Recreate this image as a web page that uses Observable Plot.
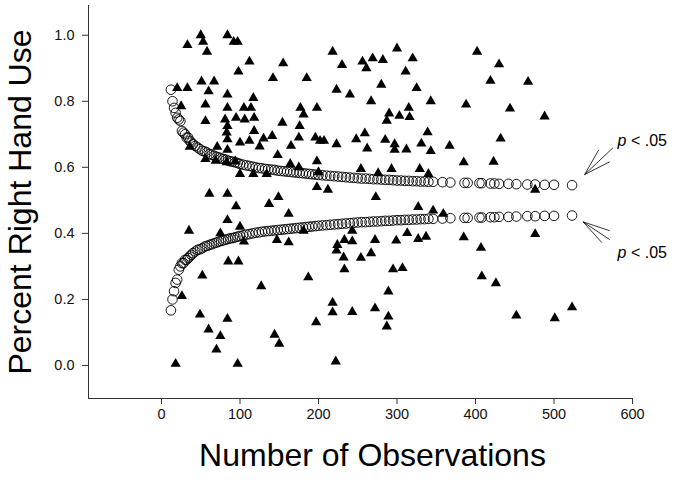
<!DOCTYPE html>
<html>
<head>
<meta charset="utf-8">
<script src="https://cdn.jsdelivr.net/npm/d3@7"></script>
<script src="https://cdn.jsdelivr.net/npm/@observablehq/plot@0.6"></script>
<style>
  html, body { margin: 0; padding: 0; background: #fff; }
  #chart { width: 687px; height: 480px; }
</style>
</head>
<body>
<div id="chart"></div>
<script>
// ---- Axes ----
const xDomain = [-93, 600];
const yDomain = [-0.1, 1.09];
const xTicks = [0, 100, 200, 300, 400, 500, 600];
const yTicks = [0.0, 0.2, 0.4, 0.6, 0.8, 1.0];
const xTitle = "Number of Observations";
const yTitle = "Percent Right Hand Use";

// ---- Observed subjects (triangles) ----
const obsN = [50,84,33,53,92,97,58,112,98,155,142,185,33,51,67,60,84,117,25,56,84,105,114,177,181,198,56,81,95,106,118,84,83,154,176,118,141,130,100,112,84,125,175,165,196,36,71,84,148,56,164,175,198,100,117,134,198,61,84,149,
  218,300,230,256,269,282,261,320,311,223,240,280,267,325,343,388,402,290,303,315,316,287,259,339,202,207,223,248,262,285,297,297,312,331,343,367,385,254,293,329,212,273,
  430,419,467,444,488,432,423,476,
  95,137,162,84,35,100,75,105,147,162,181,85,98,52,127,187,26,49,84,60,75,70,144,150,197,18,97,
  327,346,359,243,233,243,224,223,232,254,267,272,299,313,327,337,385,233,295,307,289,218,218,243,272,289,287,222,
  407,476,408,426,452,501,523,
  69,83,94,276,200,340,20];
const obsP = [1.0,1.0,0.97,0.98,0.98,0.98,0.95,0.92,0.89,0.915,0.87,0.87,0.84,0.86,0.86,0.83,0.82,0.81,0.785,0.79,0.78,0.78,0.78,0.78,0.76,0.78,0.74,0.745,0.75,0.745,0.75,0.725,0.705,0.735,0.725,0.71,0.695,0.687,0.675,0.68,0.685,0.663,0.69,0.665,0.69,0.662,0.662,0.653,0.637,0.625,0.61,0.6,0.618,0.58,0.58,0.58,0.54,0.52,0.52,0.51,
  0.95,0.96,0.91,0.92,0.93,0.925,0.9,0.93,0.89,0.835,0.82,0.85,0.8,0.84,0.8,0.79,0.95,0.763,0.756,0.78,0.752,0.741,0.703,0.706,0.68,0.68,0.67,0.685,0.657,0.683,0.67,0.653,0.654,0.672,0.649,0.665,0.615,0.595,0.595,0.595,0.532,0.51,
  0.912,0.862,0.859,0.778,0.754,0.687,0.617,0.532,
  0.482,0.489,0.459,0.44,0.408,0.42,0.4,0.375,0.38,0.373,0.408,0.315,0.315,0.272,0.24,0.267,0.21,0.154,0.141,0.109,0.089,0.048,0.093,0.066,0.131,0.005,0.005,
  0.48,0.469,0.459,0.408,0.38,0.376,0.365,0.348,0.327,0.326,0.34,0.38,0.378,0.401,0.383,0.39,0.388,0.291,0.291,0.295,0.224,0.19,0.161,0.162,0.173,0.148,0.118,0.012,
  0.356,0.398,0.27,0.249,0.151,0.143,0.176,
  0.62,0.615,0.618,0.582,0.585,0.58,0.84];

// ---- Significance limits (open circles) ----
const critN = [12,14,16,18,20,22,24,26,28,30,32,34,36,38,40,43,46,49,52,55,58,61,64,67,70,73,76,79,82,85,88,91,94,97,100,104,108,112,116,120,124,128,132,136,140,144,148,152,156,160,164,168,172,176,180,184,188,192,196,200,205,210,215,220,225,230,235,240,245,250,255,260,265,270,275,280,285,290,295,300,305,310,315,320,325,330,335,340,346,358,368,386,390,405,408,419,424,430,442,452,466,476,488,500,523];
const critUpper = [0.835,0.80,0.78,0.765,0.75,0.745,0.74,0.71,0.705,0.70,0.69,0.69,0.68,0.675,0.67,0.665,0.66,0.655,0.65,0.648,0.645,0.64,0.638,0.635,0.632,0.63,0.627,0.625,0.623,0.62,0.618,0.617,0.615,0.613,0.61,0.608,0.606,0.604,0.602,0.60,0.598,0.597,0.595,0.594,0.593,0.592,0.59,0.589,0.588,0.587,0.586,0.585,0.584,0.583,0.582,0.581,0.58,0.579,0.578,0.577,0.576,0.575,0.574,0.573,0.572,0.571,0.57,0.569,0.568,0.567,0.566,0.566,0.565,0.564,0.564,0.563,0.562,0.562,0.561,0.56,0.56,0.559,0.559,0.558,0.558,0.557,0.557,0.556,0.556,0.555,0.554,0.553,0.553,0.552,0.552,0.551,0.551,0.55,0.55,0.549,0.548,0.548,0.547,0.547,0.546];
const critLower = [0.167,0.20,0.225,0.25,0.26,0.29,0.30,0.31,0.31,0.32,0.32,0.325,0.33,0.335,0.34,0.345,0.35,0.352,0.355,0.36,0.362,0.365,0.367,0.37,0.372,0.375,0.377,0.379,0.381,0.383,0.385,0.386,0.388,0.39,0.392,0.394,0.396,0.398,0.40,0.402,0.403,0.405,0.406,0.407,0.408,0.409,0.41,0.411,0.412,0.413,0.414,0.415,0.416,0.417,0.418,0.419,0.42,0.421,0.422,0.423,0.424,0.425,0.426,0.427,0.428,0.429,0.43,0.431,0.432,0.433,0.434,0.434,0.435,0.436,0.436,0.437,0.438,0.438,0.439,0.44,0.44,0.441,0.441,0.442,0.442,0.443,0.443,0.444,0.444,0.445,0.446,0.447,0.447,0.448,0.448,0.449,0.449,0.45,0.45,0.451,0.452,0.452,0.453,0.453,0.454];

// ---- Annotations ----
const noteText = ["p < .05", "p < .05"];
const noteN = [581, 581];
const noteP = [0.68, 0.342];
const arrowTipN = [539, 539, 539, 537, 537, 537];
const arrowTipP = [0.578, 0.578, 0.578, 0.435, 0.435, 0.435];
const arrowEndN = [557, 575, 571, 561, 571, 571];
const arrowEndP = [0.653, 0.659, 0.617, 0.372, 0.381, 0.408];

// ---- Build tables ----
const observed = obsN.map((n, i) => ({n, p: obsP[i]}));
const crit = critN.flatMap((n, i) => [{n, p: critUpper[i]}, {n, p: critLower[i]}]);
const notes = noteText.map((t, i) => ({t, n: noteN[i], p: noteP[i]}));
const arrows = arrowTipN.map((n, i) => ({x1: n, y1: arrowTipP[i], x2: arrowEndN[i], y2: arrowEndP[i]}));

const font = "'Liberation Sans', Arial, Helvetica, sans-serif";

const chart = Plot.plot({
  width: 687,
  height: 480,
  marginLeft: 88,
  marginRight: 55,
  marginTop: 5,
  marginBottom: 82,
  style: {fontFamily: font, background: "#fff", color: "#111", overflow: "visible"},
  x: {domain: xDomain},
  y: {domain: yDomain},
  marks: [
    Plot.ruleY([yDomain[0]], {stroke: "#333", strokeWidth: 1}),
    Plot.ruleX([xDomain[0]], {stroke: "#333", strokeWidth: 1}),
    Plot.axisX({ticks: xTicks, tickSize: 6, tickPadding: 4, fontSize: 14.5, label: null, stroke: "#333"}),
    Plot.axisY({ticks: yTicks, tickSize: 6, tickPadding: 8, fontSize: 14.5, label: null, tickFormat: d3.format(".1f"), stroke: "#333"}),
    Plot.text([xTitle], {frameAnchor: "bottom", dx: 12, dy: 67, fontSize: 32, fill: "#000"}),
    Plot.text([yTitle], {frameAnchor: "left", rotate: -90, textAnchor: "middle", dx: -68, fontSize: 32, fill: "#000"}),
    Plot.dot(crit, {x: "n", y: "p", r: 4.8, stroke: "#000", strokeWidth: 0.9, fill: "none"}),
    Plot.dot(observed, {x: "n", y: "p", symbol: "triangle", r: 3.8, fill: "#000", stroke: "none"}),
    Plot.link(arrows, {x1: "x1", y1: "y1", x2: "x2", y2: "y2", stroke: "#000", strokeWidth: 0.8}),
    Plot.text(notes, {x: "n", y: "p", text: "t", textAnchor: "start", fontSize: 16, fill: "#000", className: "pnote"})
  ]
});

document.getElementById("chart").appendChild(chart);

// italic "p" in annotations
d3.select(chart).selectAll(".pnote text").each(function () {
  const s = this.textContent;
  if (s.startsWith("p")) {
    this.textContent = "";
    d3.select(this).append("tspan").attr("font-style", "italic").text("p");
    d3.select(this).append("tspan").text(s.slice(1));
  }
});
</script>
</body>
</html>
